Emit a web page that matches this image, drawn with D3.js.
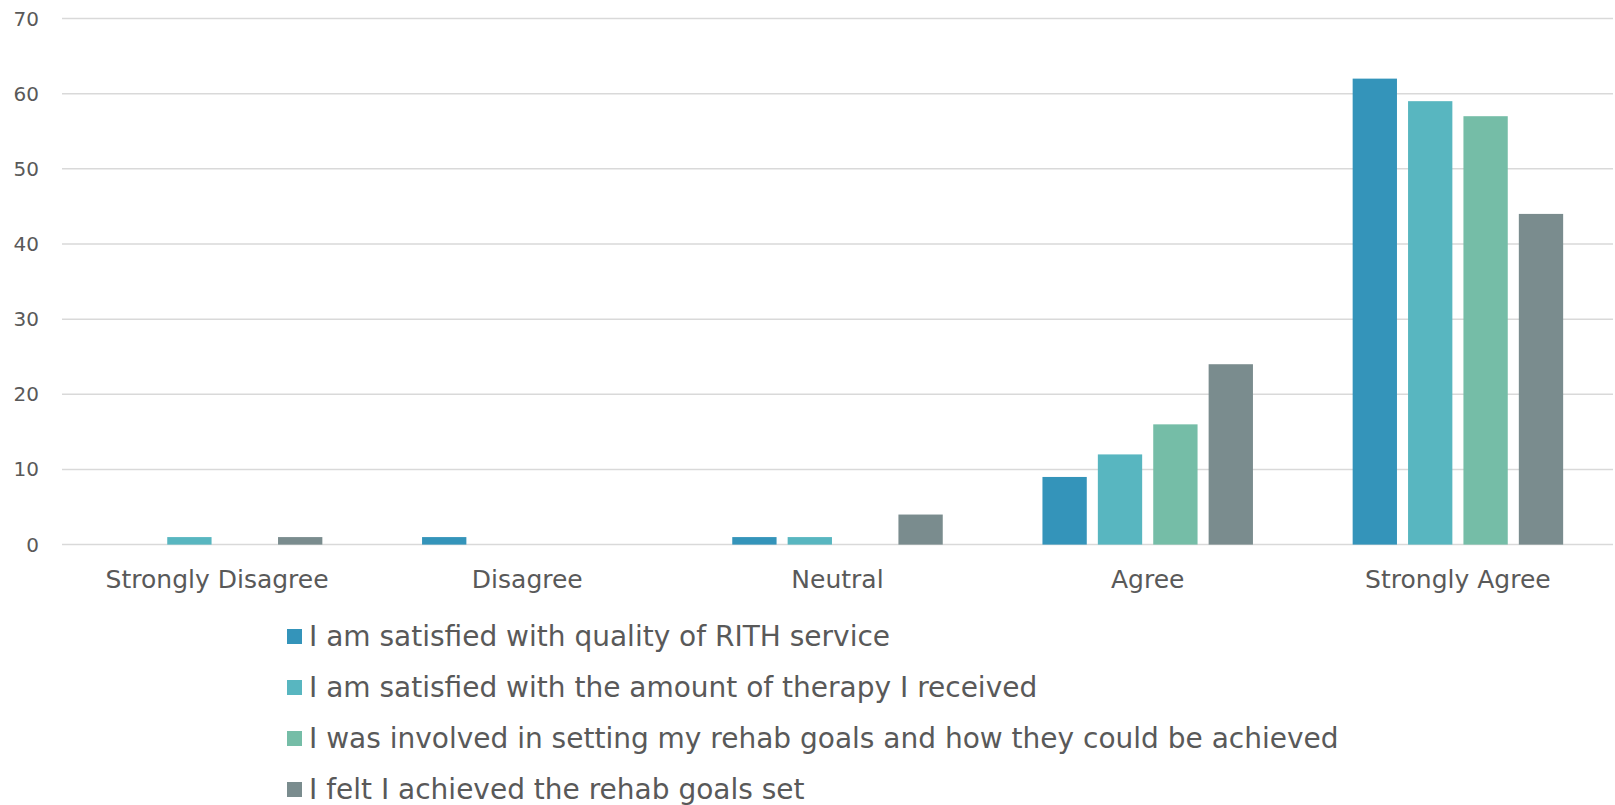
<!DOCTYPE html>
<html><head><meta charset="utf-8">
<script src="https://cdn.jsdelivr.net/npm/d3@7"></script>
<style>body{margin:0;background:#fff;}svg{display:block;font-family:"DejaVu Sans",sans-serif;}</style>
</head><body>
<svg id="chart" width="1615" height="805"></svg>
<script>
const categories = ["Strongly Disagree","Disagree","Neutral","Agree","Strongly Agree"];
const seriesNames = [
  "I am satisfied with quality of RITH service",
  "I am satisfied with the amount of therapy I received",
  "I was involved in setting my rehab goals and how they could be achieved",
  "I felt I achieved the rehab goals set"
];
const quality   = [0, 1, 1, 9, 62];
const amount    = [1, 0, 1, 12, 59];
const involved  = [0, 0, 0, 16, 57];
const achieved  = [1, 0, 4, 24, 44];
const yTicks = [0,10,20,30,40,50,60,70];
const colors = ["#3494BA","#58B6C0","#75BDA7","#7A8C8E"];

(function(){
const seriesValues = [quality, amount, involved, achieved];
const svg = d3.select("#chart");
const pLeft = 62, pRight = 1613, pTop = 18.5, pBottom = 544.6;

const x0 = d3.scaleBand().domain(categories).range([pLeft, pRight]).paddingInner(0).paddingOuter(0);
const x1 = d3.scaleBand().domain(d3.range(4)).range([0, x0.bandwidth()]).paddingInner(0.2).paddingOuter(0.9);
const y = d3.scaleLinear().domain([0,70]).range([pBottom, pTop]);

svg.append("g").selectAll("line").data(yTicks).join("line")
  .attr("x1", pLeft).attr("x2", pRight)
  .attr("y1", d=>y(d)).attr("y2", d=>y(d))
  .attr("stroke", "#D9D9D9").attr("stroke-width", 1.5);

svg.append("g").selectAll("text").data(yTicks).join("text")
  .attr("x", 39).attr("y", d=>y(d)).attr("dy","0.35em")
  .attr("text-anchor","end").attr("fill","#595959").attr("font-size", 20)
  .text(d=>d);

const groups = svg.append("g").selectAll("g").data(categories).join("g")
  .attr("transform", c=>`translate(${x0(c)},0)`);
groups.selectAll("rect").data((c,ci)=>seriesValues.map((s,si)=>({si, v:s[ci]})))
  .join("rect")
  .attr("x", d=>x1(d.si)).attr("width", x1.bandwidth())
  .attr("y", d=>y(d.v)).attr("height", d=>y(0)-y(d.v))
  .attr("fill", d=>colors[d.si]);

svg.append("g").selectAll("text").data(categories).join("text")
  .attr("x", c=>x0(c)+x0.bandwidth()/2).attr("y", 579).attr("dy","0.35em")
  .attr("text-anchor","middle").attr("fill","#595959").attr("font-size", 25)
  .text(c=>c);

const leg = svg.append("g").selectAll("g").data(seriesNames).join("g")
  .attr("transform", (d,i)=>`translate(287,${636.5 + i*51})`);
leg.append("rect").attr("x",0).attr("y",-7.5).attr("width",15).attr("height",15)
  .attr("fill",(d,i)=>colors[i]);
leg.append("text").attr("x",22).attr("y",0).attr("dy","0.35em")
  .attr("fill","#595959").attr("font-size",28).text(d=>d);
})();
</script>
</body></html>
